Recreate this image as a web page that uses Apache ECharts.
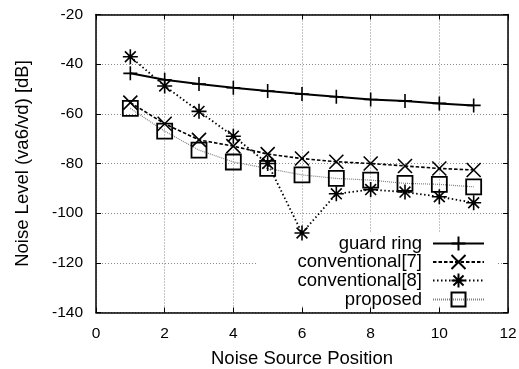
<!DOCTYPE html>
<html><head><meta charset="utf-8">
<script src="https://cdn.jsdelivr.net/npm/echarts@6/dist/echarts.min.js"></script>
<style>html,body{margin:0;padding:0;background:#fff}#c{width:519px;height:369px}</style>
</head><body><div id="c"></div><script>
// Noise source positions (x) and measured noise levels in dB
const positions = [1, 2, 3, 4, 5, 6, 7, 8, 9, 10, 11];
const guardRing      = [-43.7, -46.3, -48.0, -49.5, -50.8, -52.0, -53.1, -54.2, -54.8, -55.8, -56.6];
const conventional7  = [-55.5, -64.0, -70.5, -73.0, -76.2, -78.0, -79.3, -80.0, -81.0, -82.0, -82.6];
const conventional8  = [-37.0, -48.8, -59.0, -69.0, -80.0, -108.0, -92.2, -90.5, -91.5, -93.4, -95.8];
const proposed       = [-57.8, -67.0, -74.6, -79.4, -82.0, -84.6, -86.0, -86.7, -88.0, -88.4, -89.4];
const seriesNames = ['guard ring', 'conventional[7]', 'conventional[8]', 'proposed'];
const xTicks = [0, 2, 4, 6, 8, 10, 12];
const yTicks = [-140, -120, -100, -80, -60, -40, -20];

const FONT = '"Liberation Sans", Arial, Helvetica, sans-serif';
const pair = vals => positions.map((x, i) => [x, vals[i]]);

const SYM_PLUS = 'path://M0,-1L0,1M-1,0L1,0';
const SYM_CROSS = 'path://M-1,-1L1,1M-1,1L1,-1';
const SYM_STAR = 'path://M0,-1L0,1M-1,0L1,0M-0.72,-0.72L0.72,0.72M-0.72,0.72L0.72,-0.72';

function mkSeries(name, vals, symbol, size, line, bw) {
  return {
    name, type: 'line', data: pair(vals),
    symbol, symbolSize: size, symbolKeepAspect: true,
    showAllSymbol: true, animation: false,
    itemStyle: { color: 'rgba(0,0,0,0)', borderColor: '#000', borderWidth: bw || 1.6 },
    lineStyle: line,
    emphasis: { disabled: true }
  };
}

const frameLine = { show: true, onZero: false, lineStyle: { color: '#000', width: 1.5 } };
const innerTick = { show: true, inside: true, length: 5, lineStyle: { color: '#000', width: 1 } };
const splitDotted = { show: true, lineStyle: { color: '#8a8a8a', width: 1, type: [1, 2] } };

function legendRow(name, top) {
  return {
    data: [name], right: 34, top, orient: 'vertical', align: 'right',
    padding: 0, itemWidth: 51, itemHeight: 17.5,
    selectedMode: false,
    textStyle: { fontFamily: FONT, fontSize: 18.5, color: '#000', padding: [0, 6, 0, 0] }
  };
}

const chart = echarts.init(document.getElementById('c'));
chart.setOption({
  animation: false,
  backgroundColor: '#fff',
  grid: { left: 96, right: 11, top: 14.5, bottom: 56.5, outerBoundsMode: 'none', containLabel: false },
  xAxis: [{
    type: 'value', min: xTicks[0], max: xTicks[xTicks.length - 1], interval: 2,
    name: 'Noise Source Position', nameLocation: 'middle', nameGap: 36.5,
    nameTextStyle: { fontFamily: FONT, fontSize: 18.5, color: '#000' },
    axisLine: frameLine, axisTick: innerTick,
    axisLabel: { fontFamily: FONT, fontSize: 15.5, color: '#000', margin: 13.5 },
    splitLine: splitDotted
  }, {
    type: 'value', position: 'top', min: xTicks[0], max: xTicks[xTicks.length - 1], interval: 2,
    axisLine: frameLine, axisTick: innerTick,
    axisLabel: { show: false }, splitLine: { show: false }
  }],
  yAxis: [{
    type: 'value', min: yTicks[0], max: yTicks[yTicks.length - 1], interval: 20,
    name: 'Noise Level (va6/vd) [dB]', nameLocation: 'middle', nameGap: 64,
    nameTextStyle: { fontFamily: FONT, fontSize: 18.5, color: '#000' },
    axisLine: frameLine, axisTick: innerTick,
    axisLabel: { fontFamily: FONT, fontSize: 15.5, color: '#000', margin: 13 },
    splitLine: splitDotted
  }, {
    type: 'value', position: 'right', min: yTicks[0], max: yTicks[yTicks.length - 1], interval: 20,
    axisLine: frameLine, axisTick: innerTick,
    axisLabel: { show: false }, splitLine: { show: false }
  }],
  // white box behind the key
  graphic: { elements: [{ type: 'rect', z: 1, shape: { x: 256, y: 232, width: 241, height: 74 }, style: { fill: '#fff' } }] },
  legend: [
    legendRow(seriesNames[0], 234),
    legendRow(seriesNames[1], 252.5),
    legendRow(seriesNames[2], 271),
    legendRow(seriesNames[3], 290)
  ],
  series: [
    mkSeries(seriesNames[0], guardRing, SYM_PLUS, 14, { color: '#000', width: 2, type: 'solid' }),
    mkSeries(seriesNames[1], conventional7, SYM_CROSS, 14, { color: '#000', width: 1.6, type: [3.5, 2] }),
    mkSeries(seriesNames[2], conventional8, SYM_STAR, 15, { color: '#000', width: 1.8, type: [1.5, 2.5] }),
    mkSeries(seriesNames[3], proposed, 'rect', 15, { color: '#808080', width: 1.2, type: [1, 1] }, 1.8)
  ]
});
</script></body></html>
